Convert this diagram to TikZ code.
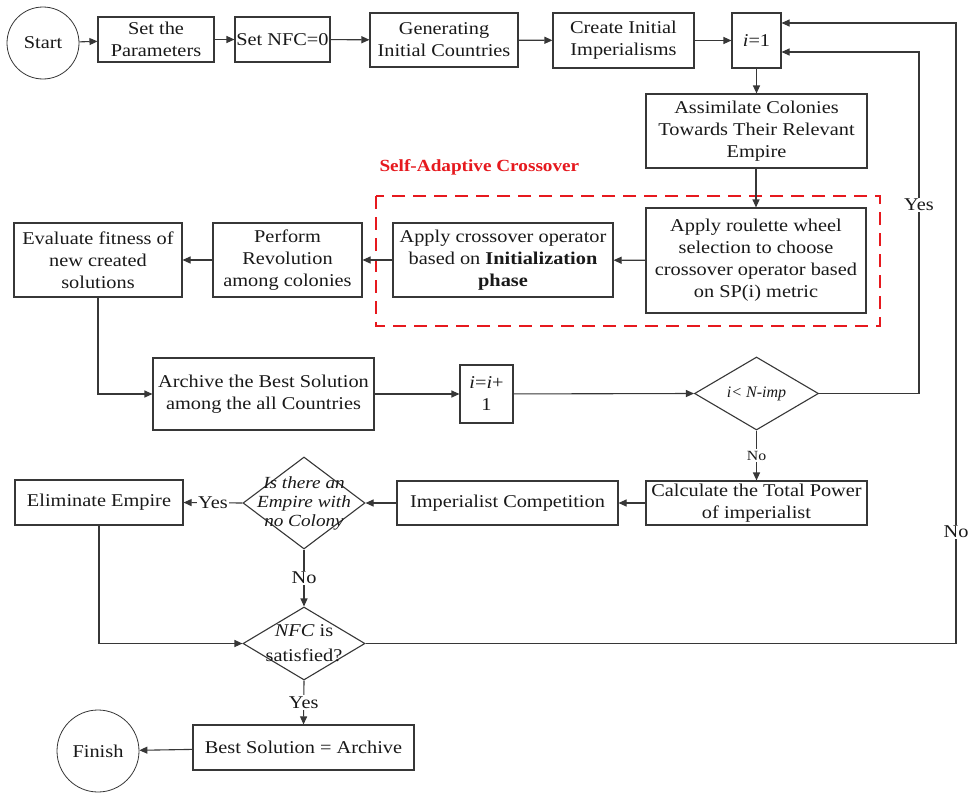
\documentclass[tikz,border=0pt]{standalone}
\usepackage{fontspec}
\setmainfont{Liberation Serif}[FakeStretch=1.13]
\newfontfamily\timesfont{Liberation Serif}
\usetikzlibrary{arrows.meta,shapes.geometric}
\definecolor{ln}{RGB}{55,55,55}
\definecolor{redd}{RGB}{230,25,30}
\definecolor{txt}{RGB}{25,25,25}
\begin{document}
\begin{tikzpicture}[x=1pt,y=-1pt,
  every node/.style={font=\fontsize{18}{22}\selectfont, text=txt},
  bx/.style n args={2}{draw=ln, line width=1.1pt, rectangle, align=center, inner sep=0pt, minimum width=#1pt, minimum height=#2pt},
  dm/.style n args={2}{draw=ln, line width=1.1pt, diamond, inner sep=0pt, minimum width=#1pt, minimum height=#2pt},
  cir/.style={draw=ln, line width=0.8pt, circle, inner sep=0pt, minimum size=#1pt},
  arr/.style={draw=ln, line width=1.1pt, -{Triangle[length=8pt,width=7pt]}},
  lab/.style={fill=white, inner sep=1.5pt}
]
\fill[white] (0,0) rectangle (969,795);
\useasboundingbox (0,0) rectangle (969,795);

% top row
\node[cir=72] (start) at (43,43) {Start};
\node[bx={116}{45}] (params) at (156,39.5) {Set the\\Parameters};
\node[bx={95}{45}] (nfc) at (282.5,39.5) {Set NFC=0};
\node[bx={148}{54}] (gen) at (444,40) {Generating\\Initial Countries};
\node[bx={141}{55}] (create) at (623.5,40.5) {Create Initial\\Imperialisms};
\node[bx={49}{55}] (i1) at (756.5,40.5) {\textit{i}=1};

\node[bx={221}{74}] (assim) at (756.5,131) {Assimilate Colonies\\Towards Their Relevant\\Empire};

% dashed region
\draw[redd, line width=2.4pt, dash pattern=on 13pt off 8pt] (376,196) rectangle (880,326);
\node[anchor=west, text=redd, font=\fontsize{17}{20}\selectfont\bfseries] (sac) at (376,167) {Self-Adaptive Crossover};

\node[bx={220}{105}] (roul) at (756,260.5) {Apply roulette wheel\\selection to choose\\crossover operator based\\on SP(i) metric};
\node[bx={220}{74}] (cross) at (503,260) {Apply crossover operator\\based on \textbf{Initialization}\\\textbf{phase}};
\node[bx={149}{74}] (perform) at (287.5,260) {Perform\\Revolution\\among colonies};
\node[bx={168}{74}] (eval) at (98,260) {Evaluate fitness of\\new created\\solutions};

\node[bx={221}{72}] (archive) at (263.5,394) {Archive the Best Solution\\among the all Countries};
\node[bx={53}{58}] (inc) at (486.5,394) {\textit{i}=\textit{i}+\\1};
\node[dm={124}{73}] (d1) at (756.5,393.5) {};
\node[font=\timesfont\fontsize{16}{19}\selectfont\itshape] (d1t) at (d1.center) {i< N-imp};

\node[bx={221}{44}] (calc) at (756.5,503) {Calculate the Total Power\\of imperialist};
\node[bx={221}{44}] (comp) at (507.5,503) {Imperialist Competition};
\node[dm={122}{92}] (d2) at (304,503) {};
\node[align=center, font=\fontsize{17}{19}\selectfont\itshape] (d2t) at (d2.center) {Is there an\\Empire with\\no Colony};
\node[bx={168}{45}] (elim) at (99,502.5) {Eliminate Empire};

\node[dm={122}{73}] (d3) at (304,643.5) {};
\node[align=center] (d3t) at (d3.center) {\textit{NFC} is\\[3pt]satisfied?};

\node[bx={221}{45}] (best) at (303.5,747.5) {Best Solution = Archive};
\node[cir=82] (finish) at (98,751) {Finish};

\coordinate (yc) at (919,52);
\coordinate (nc) at (956,23);

% connectors
\draw[arr] (start) -- (params);
\draw[arr] (params) -- (nfc);
\draw[arr] (nfc) -- (gen);
\draw[arr] (gen) -- (create);
\draw[arr] (create) -- (i1);
\draw[arr] (i1) -- (assim);
\draw[arr] (assim.south -| roul.north) -- (roul.north);
\draw[arr] (roul) -- (cross);
\draw[arr] (cross) -- (perform);
\draw[arr] (perform) -- (eval);
\draw[arr] (eval.south) |- (archive.west);
\draw[arr] (archive) -- (inc);
\draw[arr] (inc) -- (d1.west);
\draw[arr] (d1.east) -| (yc) -- (i1.east |- yc);
\draw[arr] (d1.south) -- node[lab, font=\fontsize{14}{16}\selectfont] (no1) {No} (calc.north);
\draw[arr] (calc) -- (comp);
\draw[arr] (comp) -- (d2.east);
\draw[arr] (d2.west) -- node[lab, inner sep=1pt] (yes2) {Yes} (elim.east);
\draw[arr] (d2.south) -- node[lab] (no2) {No} (d3.north);
\draw[arr] (elim.south) |- (d3.west);
\draw[arr] (d3.east) -| (nc) -- (i1.east |- nc);
\draw[arr] (d3.south) -- node[lab] (yes3) {Yes} (best.north);
\draw[arr] (best) -- (finish);

\node[lab] (yeslab) at (919,205) {Yes};
\node[lab] (nolab) at (956,532) {No};
\end{tikzpicture}
\end{document}
